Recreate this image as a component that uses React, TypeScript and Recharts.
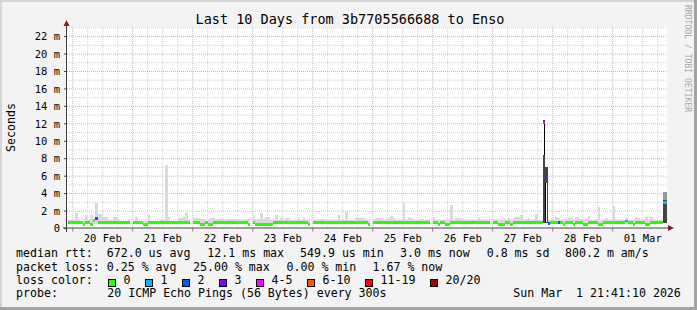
import { ComposedChart, Bar, Cell, XAxis, YAxis, CartesianGrid } from "recharts";

// hour buckets, counted from 20 Feb 00:00; first bucket is 19 Feb 22:00
const FIRST_HOUR = -2;

// median rtt per hour (ms), null = no data
const medianMs: (number | null)[] = [
  // 19 Feb
  0.67, 0.67,
  // 20 Feb
  0.67, 0.67, 0.67, 0.67, 0.45, 0.67, 0.67, 0.45, 0.9, 1.15, 0.67, 0.67,
  0.67, 0.67, 0.67, 0.67, 0.67, 0.67, 0.67, 0.67, 0.67, 0.67, 0.67, null,
  // 21 Feb
  0.67, 0.67, 0.67, 0.67, 0.45, 0.45, 0.67, 0.67, 0.67, 0.67, 0.67, 0.67,
  0.67, 0.67, 0.67, 0.67, 0.67, 0.67, 0.67, 0.67, 0.67, 0.67, 0.67, null,
  // 22 Feb
  0.67, 0.67, 0.67, 0.45, 0.45, 0.67, 0.45, 0.45, 0.67, 0.67, 0.67, 0.67,
  0.67, 0.67, 0.67, 0.67, 0.67, 0.67, 0.67, 0.67, 0.67, 0.67, 0.45, null,
  // 23 Feb
  0.67, 0.45, 0.45, 0.45, 0.45, 0.45, 0.45, 0.45, 0.67, 0.67, 0.67, 0.67,
  0.67, 0.67, 0.67, 0.67, 0.67, 0.67, 0.67, 0.67, 0.67, 0.67, 0.45, null,
  // 24 Feb
  0.67, 0.67, 0.67, 0.67, 0.67, 0.67, 0.67, 0.67, 0.67, 0.67, 0.67, 0.67,
  0.67, 0.67, 0.67, 0.67, 0.67, 0.67, 0.67, 0.67, 0.67, 0.67, 0.45, null,
  // 25 Feb
  0.67, 0.67, 0.67, 0.67, 0.67, 0.67, 0.67, 0.67, 0.67, 0.67, 0.67, 0.67,
  0.67, 0.67, 0.67, 0.67, 0.67, 0.67, 0.67, 0.67, 0.67, 0.67, 0.67, null,
  // 26 Feb
  0.67, 0.67, 0.45, 0.67, 0.67, 0.45, 0.45, 0.67, 0.67, 0.67, 0.67, 0.67,
  0.67, 0.67, 0.67, 0.67, 0.67, 0.67, 0.67, 0.67, 0.67, 0.67, 0.67, null,
  // 27 Feb
  0.67, 0.67, 0.45, 0.45, 0.45, 0.67, 0.67, 0.45, 0.67, 0.67, 0.67, 0.67,
  0.67, 0.67, 0.67, 0.67, 0.67, 0.67, 0.67, 0.67, 12.1, 5.9, 0.55, 0.67,
  // 28 Feb
  0.67, 0.67, 0.67, 0.67, 0.45, 0.67, 0.67, 0.67, 0.45, 0.67, 0.67, 0.67,
  0.45, 0.45, 0.67, 0.67, 0.67, 0.67, 0.45, 0.45, 0.67, 0.67, 0.67, 0.67,
  // 01 Mar
  0.67, 0.67, 0.67, 0.67, 0.67, 0.85, 0.67, 0.67, 0.45, 0.67, 0.67, 0.67,
  0.67, 0.45, 0.45, 0.67, 0.67, 0.67, 0.67, 0.67, 3.0, 3.0,
];

// top of the light smoke per hour (ms)
const smokeTopMs: (number | null)[] = [
  // 19 Feb
  1.0, 1.0,
  // 20 Feb
  1.0, 1.8, 1.0, 0.9, 1.1, 1.6, 1.0, 1.6, 1.1, 2.9, 1.65, 1.65,
  1.3, 1.3, 1.0, 1.0, 1.3, 1.3, 1.0, 0.9, 0.9, 0.9, 1.0, null,
  // 21 Feb
  0.9, 1.3, 0.9, 0.9, 0.9, 0.9, 1.55, 0.9, 0.9, 0.9, 0.9, 1.0,
  1.0, 7.3, 1.35, 0.9, 0.9, 0.9, 1.25, 1.25, 1.3, 1.8, 1.0, null,
  // 22 Feb
  1.15, 1.15, 1.15, 1.1, 1.1, 0.85, 1.1, 1.2, 1.2, 1.1, 1.1, 1.1,
  1.0, 1.1, 1.1, 1.1, 1.1, 1.1, 1.1, 1.0, 1.1, 1.1, 1.1, null,
  // 23 Feb
  1.4, 1.1, 1.1, 1.75, 1.1, 1.3, 1.3, 1.0, 1.0, 1.55, 1.0, 1.2,
  1.0, 1.15, 1.15, 1.0, 1.0, 1.0, 1.05, 1.0, 1.3, 1.0, 1.0, null,
  // 24 Feb
  1.0, 1.0, 1.05, 1.05, 1.05, 1.0, 1.0, 1.0, 1.0, 1.0, 1.55, 1.0,
  1.0, 1.85, 1.0, 1.0, 1.0, 1.15, 1.15, 1.15, 1.15, 1.0, 1.0, null,
  // 25 Feb
  1.0, 1.15, 1.15, 1.15, 1.0, 1.05, 1.2, 1.4, 1.2, 1.0, 1.0, 1.0,
  2.9, 1.0, 1.35, 1.2, 1.0, 1.0, 1.0, 1.05, 1.0, 1.0, 1.0, null,
  // 26 Feb
  1.35, 1.0, 1.0, 1.0, 1.0, 1.0, 1.0, 2.7, 1.0, 1.15, 1.15, 1.15,
  1.0, 1.0, 1.0, 1.0, 1.0, 1.0, 1.15, 1.0, 1.0, 1.0, 1.0, null,
  // 27 Feb
  1.05, 1.05, 1.0, 1.0, 1.2, 1.0, 1.25, 1.0, 1.2, 1.35, 1.35, 1.6,
  1.0, 1.1, 1.15, 1.0, 1.1, 1.65, 1.0, 1.0, null, null, 1.0, 1.0,
  // 28 Feb
  1.0, 1.35, 1.2, 1.0, 1.0, 1.1, 1.3, 1.2, 1.0, 1.35, 1.25, 1.1,
  1.0, 1.1, 1.4, 1.0, 1.0, 1.1, 2.5, 1.0, 1.0, 1.15, 1.0, 1.0,
  // 01 Mar
  2.55, 1.0, 1.0, 1.0, 1.0, 1.15, 1.0, 1.0, 1.0, 1.35, 1.15, 1.0,
  1.0, 1.3, 1.0, 1.35, 1.0, 1.0, 1.0, 1.0, null, null,
];

// smoke starts at the overall minimum rtt
const minRttMs = 0.55;

// hours with packet loss and their loss colour level
const lossHours = [9, 188, 189, 190, 194, 221, 236, 237];
const lossLevels = [2, 4, 3, 2, 2, 1, 1, 1];

// dense (dark) smoke
const darkHours = [188, 189, 236, 237];
const darkLowMs = [0.6, 0.6, 0.6, 0.6];
const darkHighMs = [12.4, 7.1, 3.3, 3.3];

// medium smoke on top of the last hours
const midHours = [236, 237];
const midLowMs = [3.3, 3.3];
const midHighMs = [4.2, 4.2];

// empty strips inside the spike
const stripHours = [188, 189];
const stripLowMs = [8.4, 0.8];
const stripHighMs = [12.0, 5.2];

const dayLabels = ["20 Feb", "21 Feb", "22 Feb", "23 Feb", "24 Feb", "25 Feb", "26 Feb", "27 Feb", "28 Feb", "01 Mar"];
const dayNoonHours = [12, 36, 60, 84, 108, 132, 156, 180, 204, 228];
const midnightHours = [0, 24, 48, 72, 96, 120, 144, 168, 192, 216];
const sixHourLines = [6, 12, 18, 30, 36, 42, 54, 60, 66, 78, 84, 90, 102, 108, 114, 126, 132, 138, 150, 156, 162, 174, 180, 186, 198, 204, 210, 222, 228, 234];
const yTicks = [0, 2, 4, 6, 8, 10, 12, 14, 16, 18, 20, 22];
const yMinor = [1, 3, 5, 7, 9, 11, 13, 15, 17, 19, 21, 23];

const lossColors = ["#26ff00", "#00b8ff", "#0059ff", "#7e00ff", "#ff00ff", "#ff5500", "#ff0000", "#a10000"];
const lossLabels = ["0", "1", "2", "3", "4-5", "6-10", "11-19", "20/20"];

const X_DOMAIN: [number, number] = [-2.3, 237.7];
const Y_DOMAIN: [number, number] = [0, 23.1];
const LINE_HALF = 0.16;

const range = (hours: number[], lo: number[], hi: number[], h: number) => {
  const k = hours.indexOf(h);
  return k >= 0 ? [lo[k], hi[k]] : null;
};

const data = medianMs.map((m, i) => {
  const h = FIRST_HOUR + i;
  const s = smokeTopMs[i];
  const li = lossHours.indexOf(h);
  return {
    t: h + 0.5,
    smoke: s == null ? null : [minRttMs, s],
    dark: range(darkHours, darkLowMs, darkHighMs, h),
    mid: range(midHours, midLowMs, midHighMs, h),
    strip: range(stripHours, stripLowMs, stripHighMs, h),
    median: m == null ? null : [m - LINE_HALF, m + LINE_HALF],
    loss: li >= 0 ? lossLevels[li] : 0,
  };
});

const MONO = "'DejaVu Sans Mono', monospace";
const PL = 67, PT = 27, PR = 667, PB = 228.5;

const timeTicks = [...midnightHours, ...dayNoonHours].sort((a, b) => a - b);

const TimeTick = (props: any) => {
  const { x, y, payload } = props;
  const k = dayNoonHours.indexOf(payload.value);
  if (k >= 0) {
    return (
      <text x={x} y={y + 13} textAnchor="middle" fontFamily={MONO} fontSize={10.5} fill="#000">
        {dayLabels[k]}
      </text>
    );
  }
  return <line x1={x} x2={x} y1={y} y2={y + 3} stroke="#b07070" />;
};

// one rect per hour bucket, fixed width, centred on the bucket
const hourRect = (w: number) => (p: any) => {
  const { x, y, width, height, fill } = p;
  if (!Number.isFinite(height) || Math.abs(height) < 0.01 || !Number.isFinite(x)) return <g />;
  const top = Math.min(y, y + height);
  return <rect x={x + width / 2 - w / 2} y={top} width={w} height={Math.abs(height)} fill={fill} />;
};

const hiddenX = (id: string) => (
  <XAxis xAxisId={id} dataKey="t" type="number" domain={X_DOMAIN} allowDataOverflow hide height={0} />
);

const legendBoxX = [108.5, 145.5, 182.5, 219.5, 256.5, 307.5, 365.5, 430.5];

const T = (p: { x: number; y: number; children: string }) => (
  <text x={p.x} y={p.y} xmlSpace="preserve">{p.children}</text>
);

export default function App() {
  return (
    <div style={{ position: "absolute", left: 0, top: 0, width: 697, height: 310, background: "#f3f3f3", overflow: "hidden" }}>
      <style>{"rect{shape-rendering:crispEdges}"}</style>
      <ComposedChart
        width={697}
        height={310}
        data={data}
        margin={{ top: PT, right: 697 - PR, bottom: 310 - PB - 20, left: 0 }}
        barGap={0}
        barCategoryGap={0}
      >
        <XAxis
          xAxisId="time"
          dataKey="t"
          type="number"
          domain={X_DOMAIN}
          allowDataOverflow
          ticks={timeTicks}
          interval={0}
          tick={<TimeTick />}
          tickLine={false}
          tickSize={0}
          tickMargin={0}
          axisLine={false}
          height={20}
        />
        {hiddenX("smokeX")}
        {hiddenX("darkX")}
        {hiddenX("midX")}
        {hiddenX("stripOutX")}
        {hiddenX("stripX")}
        {hiddenX("medX")}
        <YAxis
          type="number"
          domain={Y_DOMAIN}
          allowDataOverflow
          ticks={yTicks}
          interval={0}
          width={PL}
          tickSize={3}
          tickMargin={4}
          tickLine={{ stroke: "#444" }}
          axisLine={false}
          tickFormatter={(v) => (v === 0 ? "0" : `${v} m`)}
          tick={{ fontFamily: MONO, fontSize: 10.5, fill: "#000" }}
        />
        <CartesianGrid
          xAxisId="time"
          fill="#ffffff"
          stroke="#cfcfcf"
          strokeDasharray="1 1"
          horizontalValues={yMinor}
          verticalValues={sixHourLines}
        />
        <CartesianGrid
          xAxisId="time"
          stroke="#f0a8a8"
          strokeDasharray="1 1"
          horizontalValues={yTicks.filter((v) => v > 0)}
          verticalValues={midnightHours}
        />
        <Bar xAxisId="smokeX" dataKey="smoke" fill="#dadada" shape={hourRect(2.5)} isAnimationActive={false} />
        <Bar xAxisId="darkX" dataKey="dark" fill="#444444" shape={hourRect(2.5)} isAnimationActive={false} />
        <Bar xAxisId="midX" dataKey="mid" fill="#9a9a9a" shape={hourRect(2.5)} isAnimationActive={false} />
        <Bar xAxisId="stripOutX" dataKey="strip" fill="#000000" shape={hourRect(2.2)} isAnimationActive={false} />
        <Bar xAxisId="stripX" dataKey="strip" fill="#ffffff" shape={hourRect(1)} isAnimationActive={false} />
        <Bar xAxisId="medX" dataKey="median" shape={hourRect(2.5)} isAnimationActive={false}>
          {data.map((d, i) => (
            <Cell key={i} fill={lossColors[d.loss]} />
          ))}
        </Bar>
      </ComposedChart>

      <svg width={697} height={310} style={{ position: "absolute", left: 0, top: 0 }} fontFamily={MONO}>
        {/* frame */}
        <rect x={0} y={0} width={697} height={2} fill="#d4d4d4" />
        <rect x={0} y={0} width={2} height={310} fill="#d4d4d4" />
        <rect x={0} y={307} width={697} height={3} fill="#a3a3a3" />
        <rect x={694} y={0} width={3} height={310} fill="#a3a3a3" />

        {/* axes with arrows */}
        <line x1={PL - 0.5} y1={23} x2={PL - 0.5} y2={232} stroke="#404040" strokeWidth={1} />
        <line x1={63} y1={PB - 0.5} x2={PR + 2} y2={PB - 0.5} stroke="#404040" strokeWidth={1} />
        <polygon points={`${PL - 3.5},26 ${PL + 2.5},26 ${PL - 0.5},20`} fill="#8b1a1a" />
        <polygon points={`${PR + 1},${PB - 3.5} ${PR + 1},${PB + 2.5} ${PR + 7},${PB - 0.5}`} fill="#8b1a1a" />

        <text x={350} y={24} textAnchor="middle" fontSize={13.5} fill="#000">
          Last 10 Days from 3b7705566688 to Enso
        </text>
        <text x={15} y={127.5} transform="rotate(-90 15 127.5)" textAnchor="middle" fontSize={11.6} fill="#000">
          Seconds
        </text>
        <text x={685} y={5} transform="rotate(90 685 5)" fontSize={8.1} fill="#a8a8a8">
          RRDTOOL / TOBI OETIKER
        </text>

        <g fontSize={11.6} fill="#000">
          <T x={16} y={257.3}>median rtt:  672.0 us avg</T>
          <T x={207.3} y={257.3}>12.1 ms max</T>
          <T x={300} y={257.3}>549.9 us min</T>
          <T x={400} y={257.3}>3.0 ms now</T>
          <T x={486.7} y={257.3}>0.8 ms sd</T>
          <T x={565} y={257.3}>800.2 m am/s</T>

          <T x={16} y={270.7}>packet loss: 0.25 % avg</T>
          <T x={193} y={270.7}>25.00 % max</T>
          <T x={286.5} y={270.7}>0.00 % min</T>
          <T x={372.5} y={270.7}>1.67 % now</T>

          <T x={16} y={284}>loss color:</T>
          {lossLabels.map((lab, i) => (
            <g key={lab}>
              <rect x={legendBoxX[i]} y={279.5} width={7} height={7} fill={lossColors[i]} stroke="#000" strokeWidth={1} />
              <T x={legendBoxX[i] + 15} y={284}>{lab}</T>
            </g>
          ))}

          <T x={16} y={297.3}>probe:</T>
          <T x={107.3} y={297.3}>20 ICMP Echo Pings (56 Bytes) every 300s</T>
          <T x={513.3} y={297.3}>Sun Mar  1 21:41:10 2026</T>
        </g>
      </svg>
    </div>
  );
}
